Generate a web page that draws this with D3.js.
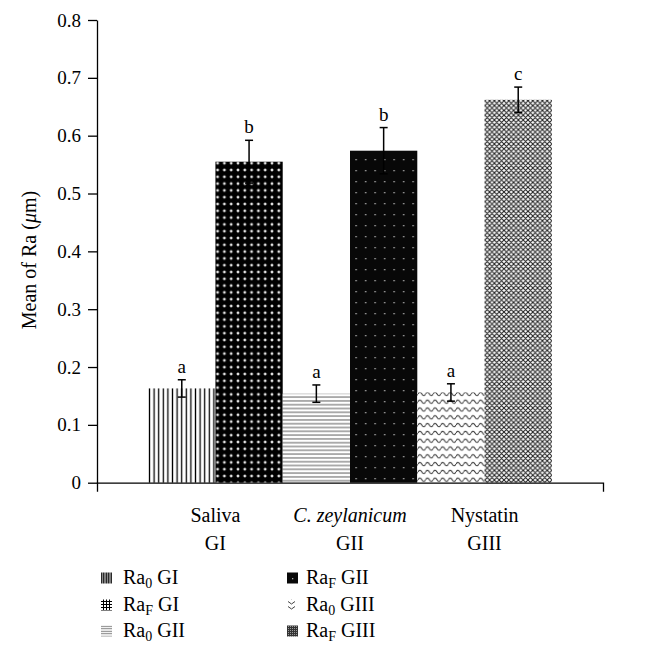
<!DOCTYPE html>
<html><head><meta charset="utf-8">
<script src="https://cdn.jsdelivr.net/npm/d3@7"></script>
<style>body{margin:0;background:#fff}svg{display:block}</style>
</head><body><svg id="c" width="653" height="658"></svg>
<script>
// ---- data ----
const groupNames = ["Saliva", "C. zeylanicum", "Nystatin"];
const groupCodes = ["GI", "GII", "GIII"];
const seriesKeys = ["Ra0", "RaF"];
const seriesSubs = ["0", "F"];
const ra0Means = [0.163, 0.154, 0.156];
const ra0Errors = [0.015, 0.015, 0.015];
const raFMeans = [0.555, 0.574, 0.662];
const raFErrors = [0.037, 0.040, 0.022];
const ra0Letters = ["a", "a", "a"];
const raFLetters = ["b", "b", "c"];
const yTickValues = [0, 0.1, 0.2, 0.3, 0.4, 0.5, 0.6, 0.7, 0.8];

const FONT = "'Liberation Serif', 'Times New Roman', serif";
const svg = d3.select("#c");
const defs = svg.append("defs");

function pat(id, w, h, draw) {
  const p = defs.append("pattern").attr("id", id)
    .attr("patternUnits", "userSpaceOnUse").attr("width", w).attr("height", h);
  draw(p, w, h);
}
// bar patterns
pat("p0", 4.6, 10, (p, w, h) => {
  p.append("rect").attr("width", w).attr("height", h).attr("fill", "#fff");
  p.append("line").attr("x1", 2.3).attr("x2", 2.3).attr("y1", 0).attr("y2", h).attr("stroke", "#000").attr("stroke-width", 1.3);
});
pat("p1", 6.8, 6.8, (p, w, h) => {
  p.append("rect").attr("width", w).attr("height", h).attr("fill", "#fff");
  p.append("circle").attr("cx", w / 2).attr("cy", h / 2).attr("r", 3.6).attr("fill", "#000");
});
pat("p2", 10, 3.8, (p, w, h) => {
  p.append("rect").attr("width", w).attr("height", h).attr("fill", "#fff");
  p.append("line").attr("x1", 0).attr("x2", w).attr("y1", 1.9).attr("y2", 1.9).attr("stroke", "#444").attr("stroke-width", 0.9);
});
pat("p3", 9.5, 11, (p, w, h) => {
  p.append("rect").attr("width", w).attr("height", h).attr("fill", "#080808");
  p.append("rect").attr("x", 4).attr("y", 5).attr("width", 1.3).attr("height", 1.3).attr("fill", "#bbb");
});
pat("p4", 7.6, 7.8, (p, w, h) => {
  p.append("rect").attr("width", w).attr("height", h).attr("fill", "#fff");
  p.append("path").attr("d", "M0,3.9 Q1.9,0.4 3.8,3.9 T7.6,3.9").attr("fill", "none").attr("stroke", "#333").attr("stroke-width", 1.05);
});
pat("p5", 4.8, 4.8, (p, w, h) => {
  p.append("rect").attr("width", w).attr("height", h).attr("fill", "#fff");
  p.append("path").attr("d", "M0,0L4.8,4.8M4.8,0L0,4.8M3.8,-1L5.8,1M-1,3.8L1,5.8M-1,1L1,-1M3.8,5.8L5.8,3.8")
    .attr("fill", "none").attr("stroke", "#1e1e1e").attr("stroke-width", 1.05);
});
// legend patterns
pat("l0", 2.5, 10, (p, w, h) => {
  p.append("rect").attr("width", w).attr("height", h).attr("fill", "#fff");
  p.append("line").attr("x1", 1.25).attr("x2", 1.25).attr("y1", 0).attr("y2", h).attr("stroke", "#000").attr("stroke-width", 1.6);
});
pat("l1", 3, 3, (p, w, h) => {
  p.append("rect").attr("width", w).attr("height", h).attr("fill", "#fff");
  p.append("path").attr("d", "M1.5,0V3M0,1.5H3").attr("stroke", "#000").attr("stroke-width", 1);
});
pat("l2", 10, 2.5, (p, w, h) => {
  p.append("rect").attr("width", w).attr("height", h).attr("fill", "#fff");
  p.append("line").attr("x1", 0).attr("x2", w).attr("y1", 1.25).attr("y2", 1.25).attr("stroke", "#777").attr("stroke-width", 1);
});
pat("l3", 11, 11, (p, w, h) => {
  p.append("rect").attr("width", w).attr("height", h).attr("fill", "#080808");
  p.append("rect").attr("x", 6).attr("y", 6).attr("width", 1.3).attr("height", 1.3).attr("fill", "#aaa");
});
pat("l4", 11, 5, (p, w, h) => {
  p.append("rect").attr("width", w).attr("height", h).attr("fill", "#fff");
  p.append("path").attr("d", "M2,1.5 L5.5,4 L9,1.5").attr("fill", "none").attr("stroke", "#444").attr("stroke-width", 1);
});
pat("l5", 2, 2, (p, w, h) => {
  p.append("rect").attr("width", w).attr("height", h).attr("fill", "#333");
  p.append("rect").attr("width", 1).attr("height", 1).attr("fill", "#999");
});

// ---- rows ----
const rows = [];
groupCodes.forEach((g, gi) => {
  rows.push({ g, gi, s: "Ra0", si: 0, mean: ra0Means[gi], err: ra0Errors[gi], letter: ra0Letters[gi], pid: "p" + (gi * 2), lid: "l" + (gi * 2) });
  rows.push({ g, gi, s: "RaF", si: 1, mean: raFMeans[gi], err: raFErrors[gi], letter: raFLetters[gi], pid: "p" + (gi * 2 + 1), lid: "l" + (gi * 2 + 1) });
});

// ---- scales ----
const x = d3.scaleBand().domain(groupCodes).range([97, 603]).paddingInner(0).paddingOuter(0.38);
const xs = d3.scaleBand().domain(seriesKeys).range([0, x.bandwidth()]).padding(0);
const y = d3.scaleLinear().domain([0, 0.8]).range([482.7, 20]);

// ---- bars ----
svg.append("g").selectAll("rect").data(rows).join("rect")
  .attr("x", d => x(d.g) + xs(d.s))
  .attr("y", d => y(d.mean))
  .attr("width", xs.bandwidth())
  .attr("height", d => y(0) - y(d.mean))
  .attr("fill", d => `url(#${d.pid})`);

// ---- error bars ----
const eb = svg.append("g").attr("stroke", "#000").attr("stroke-width", 1.5);
rows.forEach(d => {
  const cx = x(d.g) + xs(d.s) + xs.bandwidth() / 2;
  const y1 = y(d.mean + d.err), y2 = y(d.mean - d.err);
  eb.append("line").attr("x1", cx).attr("x2", cx).attr("y1", y1).attr("y2", y2);
  eb.append("line").attr("x1", cx - 4).attr("x2", cx + 4).attr("y1", y1).attr("y2", y1);
  eb.append("line").attr("x1", cx - 4).attr("x2", cx + 4).attr("y1", y2).attr("y2", y2);
});
svg.append("g").selectAll("text").data(rows).join("text")
  .attr("x", d => x(d.g) + xs(d.s) + xs.bandwidth() / 2)
  .attr("y", d => y(d.mean + d.err) - 7)
  .attr("text-anchor", "middle")
  .attr("font-family", FONT).attr("font-size", 19)
  .text(d => d.letter);

// ---- axes ----
const yAxis = svg.append("g").attr("transform", "translate(97,0)")
  .call(d3.axisLeft(y).tickValues(yTickValues).tickSize(9).tickSizeOuter(0).tickPadding(7)
    .tickFormat(d => d === 0 ? "0" : d3.format(".1f")(d)));
yAxis.selectAll("text").attr("font-family", FONT).attr("font-size", 19).attr("fill", "#000");
yAxis.selectAll("line,path").attr("stroke", "#000").attr("stroke-width", 1.3);

const xAxis = svg.append("g").attr("transform", `translate(0,${y(0)})`)
  .call(d3.axisBottom(x).tickValues([]).tickSizeOuter(9));
xAxis.selectAll("path").attr("stroke", "#000").attr("stroke-width", 1.3);

// category labels
const cl = svg.append("g").attr("font-family", FONT).attr("font-size", 20).attr("text-anchor", "middle");
groupCodes.forEach((g, gi) => {
  const cx = x(g) + x.bandwidth() / 2;
  cl.append("text").attr("x", cx).attr("y", 522)
    .attr("font-style", gi === 1 ? "italic" : "normal").text(groupNames[gi]);
  cl.append("text").attr("x", cx).attr("y", 550).text(g);
});

// y label
const yl = svg.append("text").attr("transform", "translate(36,260) rotate(-90)")
  .attr("text-anchor", "middle").attr("font-family", FONT).attr("font-size", 20);
yl.append("tspan").text("Mean of Ra (");
yl.append("tspan").attr("font-style", "italic").text("\u03bc");
yl.append("tspan").text("m)");

// ---- legend ----
const legX = [101, 287], legT = [123, 306], legY = [578, 605, 631];
const leg = svg.append("g");
rows.forEach((d, i) => {
  const col = Math.floor(i / 3), row = i % 3;
  leg.append("rect").attr("x", legX[col]).attr("y", legY[row] - 5.5).attr("width", 11).attr("height", 11)
    .attr("fill", `url(#${d.lid})`);
  const t = leg.append("text").attr("x", legT[col]).attr("y", legY[row] + 6)
    .attr("font-family", FONT).attr("font-size", 20);
  t.append("tspan").text("Ra");
  t.append("tspan").attr("font-size", 14).attr("dy", 4).text(seriesSubs[d.si]);
  t.append("tspan").attr("dy", -4).text("\u00a0" + d.g);
});
</script></body></html>
